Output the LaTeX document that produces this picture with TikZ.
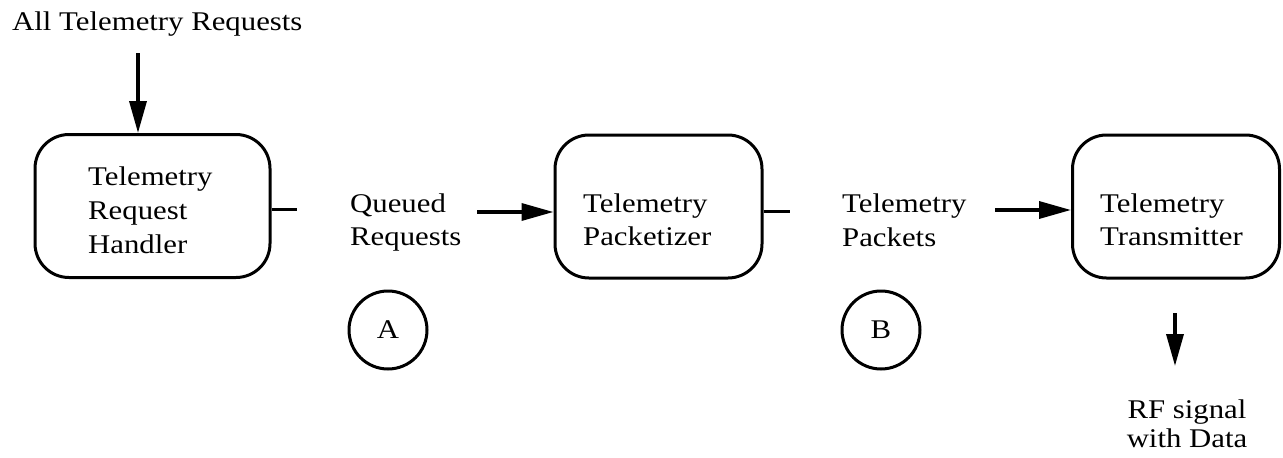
\documentclass[tikz,border=0pt]{standalone}
\usepackage{fontspec}
\setmainfont{Liberation Serif}[FakeStretch=1.14]
\usetikzlibrary{arrows.meta}
\begin{document}
\begin{tikzpicture}[x=1pt,y=-1pt,
  txt/.style={inner sep=0pt,anchor=base west,font=\fontsize{27}{34}\selectfont},
  ctxt/.style={inner sep=0pt,anchor=base,font=\fontsize{27}{34}\selectfont},
  procbox/.style={draw,line width=3pt,rounded corners=34pt,minimum width=#1,minimum height=143pt,inner sep=0pt},
  store/.style={draw,circle,line width=3pt,minimum size=78pt,inner sep=0pt,font=\fontsize{27}{34}\selectfont},
  arr/.style={line width=3.5pt,-{Triangle[length=32pt,width=17pt]}},
  stub/.style={line width=3pt}]
\useasboundingbox (0,0) rectangle (1283,458);
% title
\node[txt] (tin) at (12,30) {All Telemetry Requests};
% boxes
\node[procbox=235pt] (b1) at (152.5,206) {};
\node[procbox=207pt] (b2) at (658.5,206.5) {};
\node[procbox=207pt] (b3) at (1176,206.5) {};
% box texts
\node[txt] (b1a) at (88,185) {Telemetry};
\node[txt] (b1b) at (88,219) {Request};
\node[txt] (b1c) at (88,253) {Handler};
\node[txt] (b2a) at (583,212) {Telemetry};
\node[txt] (b2b) at (583,245) {Packetizer};
\node[txt] (b3a) at (1100,212) {Telemetry};
\node[txt] (b3b) at (1100,245) {Transmitter};
% flow labels
\node[txt] (qa) at (350,212) {Queued};
\node[txt] (qb) at (350,245) {Requests};
\node[txt] (pa) at (842,212) {Telemetry};
\node[txt] (pb) at (842,246) {Packets};
\node[ctxt] (rfa) at (1187,418) {RF signal};
\node[ctxt] (rfb) at (1187,447) {with Data};
% stores
\node[store] (sa) at (388,330) {A};
\node[store] (sb) at (881,330) {B};
% coordinates for free ends
\coordinate (tinar) at (138,53);
\coordinate (s1) at (297,209);
\coordinate (s2) at (790,211);
\coordinate (a1) at (477,212);
\coordinate (a2) at (995,210);
\coordinate (rfs) at (1175,313);
\coordinate (rfe) at (1175,366);
% connectors
\draw[arr] (tinar) -- (tinar |- b1.north);
\draw[stub] (b1.east |- s1) -- (s1);
\draw[stub] (b2.east |- s2) -- (s2);
\draw[arr] (a1) -- (b2.west |- a1);
\draw[arr] (a2) -- (b3.west |- a2);
\draw[arr] (rfs) -- (rfe);
\end{tikzpicture}
\end{document}
